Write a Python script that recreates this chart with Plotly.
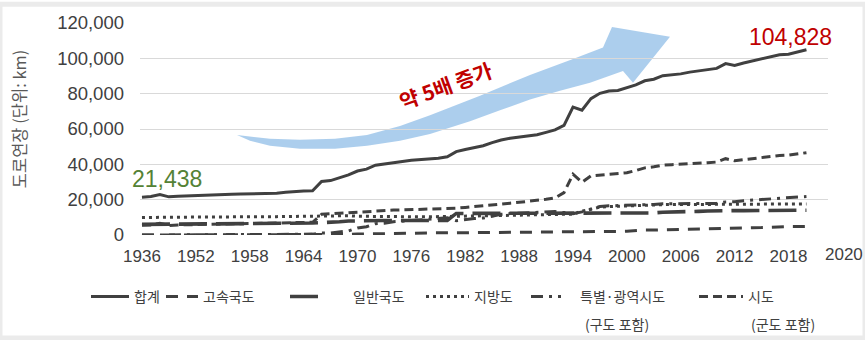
import plotly.graph_objects as go

# Road length in Korea by road class (km)
years = ["1936"] + [str(y) for y in range(1947, 2021)]

total = [21438, 21800, 22900, 21600, 22000, 22100, 22300, 22500, 22600, 22800,
         23000, 23200, 23300, 23400, 23500, 23700, 24200, 24700, 24900, 25000,
         30300, 30800, 32300, 34000, 36200, 37300, 39500, 40300, 41200, 41600,
         42300, 42700, 42900, 43500, 44300, 47200, 48400, 49500, 50500, 52300,
         53800, 54800, 55600, 56300, 56800, 58100, 59500, 62000, 72400, 70600,
         77200, 80200, 81500, 81800, 83200, 85000, 87300, 88200, 90200, 90700,
         91200, 92200, 93000, 93600, 94300, 97000, 96000, 97400, 98500, 99700,
         101000, 102000, 102300, 103500, 104828]

expressway = [0, 0, 0, 0, 0, 0, 0, 0, 0, 0,
              0, 0, 0, 0, 0, 0, 0, 0, 0, 0,
              0, 0, 90, 300, 550, 650, 650, 1000, 1000, 1140,
              1140, 1150, 1220, 1220, 1225, 1245, 1245, 1310, 1420, 1420,
              1420, 1540, 1540, 1550, 1550, 1600, 1600, 1600, 1650, 1820,
              1890, 1890, 1990, 2040, 2130, 2640, 2780, 2780, 2920, 2970,
              3100, 3370, 3450, 3780, 3860, 3910, 4040, 4110, 4140, 4190,
              4440, 4720, 4770, 4770, 4850]

national = [6000, 6100, 6200, 6200, 6200, 6200, 6200, 6300, 6300, 6300,
            6400, 6500, 6500, 6500, 6500, 6600, 6600, 6700, 6800, 6800,
            7000, 7100, 7500, 7900, 8100, 8100, 8200, 8200, 8200, 8200,
            8200, 8200, 8200, 8200, 8200, 12200, 12200, 12200, 12200, 12200,
            12200, 12200, 12200, 12200, 12200, 12300, 12300, 12300, 12400, 12400,
            12400, 12400, 12400, 12400, 12400, 12400, 12500, 12500, 12900, 12900,
            13000, 13200, 13400, 13600, 13800, 13800, 13800, 13800, 13900, 13900,
            13900, 13900, 13900, 14000, 14000]

provincial = [9900, 10000, 10100, 10000, 10100, 10100, 10200, 10200, 10200, 10300,
              10300, 10300, 10300, 10400, 10400, 10400, 10500, 10500, 10500, 10500,
              10500, 10600, 10800, 10900, 10600, 10500, 10400, 10400, 10400, 10300,
              10300, 10300, 10300, 10400, 10400, 10500, 10600, 10700, 10800, 10900,
              11000, 11000, 11100, 11100, 11100, 11200, 11300, 11400, 11800, 13500,
              14800, 15800, 16100, 16200, 16500, 16600, 16900, 17000, 17200, 17200,
              17200, 17200, 17300, 17300, 17400, 17400, 17400, 17500, 17500, 17600,
              17600, 17600, 17600, 17600, 17600]

metro = [0, 0, 0, 0, 0, 0, 0, 0, 0, 0,
         0, 0, 0, 0, 0, 0, 200, 400, 400, 500,
         1100, 1100, 1600, 2300, 4000, 4700, 6400, 6700, 7500, 7800,
         8400, 8700, 8700, 9100, 9700, 8100, 8800, 9300, 9600, 10800,
         11700, 12100, 12300, 12450, 12550, 12800, 13300, 12700, 12100, 13100,
         14600, 16100, 16500, 16600, 16900, 16900, 17100, 17300, 17700, 17800,
         17900, 17900, 18100, 18000, 17900, 18700, 18800, 19400, 19700, 20000,
         20400, 20800, 20800, 21200, 21800]

city = [5500, 5700, 6600, 5400, 5700, 5800, 5900, 6000, 6100, 6200,
        6300, 6400, 6500, 6500, 6600, 6700, 6900, 7100, 7200, 7200,
        11700, 12000, 12300, 12600, 13000, 13400, 13800, 14000, 14100, 14200,
        14300, 14400, 14500, 14600, 14800, 15200, 15600, 16000, 16500, 17000,
        17500, 18000, 18500, 19000, 19400, 20200, 21000, 24000, 34400, 29800,
        33500, 34000, 34500, 34600, 35200, 36500, 38000, 38600, 39500, 39800,
        40000, 40500, 40800, 40900, 41300, 43200, 42000, 42600, 43300, 44000,
        44600, 45000, 45200, 45900, 46600]

tick_years = ["1936", "1952", "1958", "1964", "1970", "1976", "1982",
              "1988", "1994", "2000", "2006", "2012", "2018"]
end_tick_label = "2020"

# name, values, dash pattern, width, legend label text
series = [
    ("합계", total, "solid", 3.0, "합계"),
    ("고속국도", expressway, "12px,9px", 3.0, "고속국도"),
    ("일반국도", national, "28px,9px", 3.6, "\u3000\u3000일반국도"),
    ("지방도", provincial, "3px,4px", 3.0, "지방도"),
    ("특별·광역시도", metro, "12px,6px,3px,6px", 3.0, "\u3000특별·광역시도"),
    ("시도", city, "9px,5px", 3.0, "시도"),
]

W, H = 865, 340
ML, MR, MT, MB = 140, 37, 19, 105
PW, PH = W - ML - MR, H - MT - MB


def px(x):
    return (x - ML) / PW


def py(y):
    return (H - MB - y) / PH


LINE = "#404040"
KR = "Noto Sans CJK KR"
SANS = "Liberation Sans, Arial"

fig = go.Figure()

legend_ids = ["legend", "legend2", "legend3", "legend4", "legend5", "legend6"]
for (name, vals, dash, w, label), lid in zip(series, legend_ids):
    fig.add_trace(go.Scatter(
        x=years, y=vals, mode="lines", name=label, legend=lid,
        line=dict(color=LINE, width=w, dash=dash),
        hoverinfo="skip",
    ))

# legend entries laid out in one row under the axis: (left px, symbol width)
legend_pos = [(86, 38), (161, 32), (285, 30), (421, 43), (526, 30), (694, 44)]
layout_legends = {}
for lid, (lx, iw) in zip(legend_ids, legend_pos):
    layout_legends[lid] = dict(
        x=px(lx), xanchor="left", y=py(298), yanchor="middle",
        orientation="h", bgcolor="rgba(0,0,0,0)", borderwidth=0,
        itemwidth=iw, font=dict(family=KR, size=14, color=LINE),
        itemclick=False, itemdoubleclick=False,
    )

# blue trend arrow
upper = [(237, 133), (270, 137), (300, 138), (335, 137), (367, 133), (400, 124),
         (430, 113), (480, 93), (530, 72), (575, 55), (603, 44)]
head = [(612, 23), (670, 33), (633, 80)]
lower = [(623, 68), (590, 80), (560, 88), (530, 97), (500, 108), (470, 119),
         (430, 132), (400, 139), (367, 144), (335, 147), (300, 147), (270, 144),
         (250, 139)]
pts = upper + head + lower
path = "M " + " L ".join(f"{px(a):.5f},{py(b):.5f}" for a, b in pts) + " Z"

shapes = [
    dict(type="path", path=path, xref="paper", yref="paper",
         fillcolor="rgba(157,197,234,0.85)", line=dict(width=0), layer="between"),
    dict(type="rect", xref="paper", yref="paper", x0=px(0), x1=px(W), y0=py(0), y1=py(H),
         line=dict(color="#ebebeb", width=5), fillcolor="rgba(0,0,0,0)"),
]


def note(text, x, y, size, color, family=KR, angle=0, xanchor="center"):
    return dict(text=text, x=px(x), y=py(y), xref="paper", yref="paper",
                xanchor=xanchor, yanchor="middle", showarrow=False,
                textangle=angle, font=dict(family=family, size=size, color=color))


annotations = [
    note(f"{total[0]:,}", 167, 178, 23, "#548235", family=SANS),
    note(f"{total[-1]:,}", 790, 33, 23, "#C00000", family=SANS),
    note("<b>약 5배 증가</b>", 445, 82, 20.5, "#C00000", angle=-20),
    note("도로연장 (단위: km)", 19, 117, 16.5, "#595959", angle=-90),
    note(end_tick_label, 844, 255, 17, LINE, family=SANS),
    note("(구도 포함)", 583, 326, 14, LINE, xanchor="left"),
    note("(군도 포함)", 749, 326, 14, LINE, xanchor="left"),
]

fig.update_layout(
    width=W, height=H,
    margin=dict(l=ML, r=MR, t=MT, b=MB, pad=0),
    paper_bgcolor="white", plot_bgcolor="white",
    showlegend=True,
    shapes=shapes, annotations=annotations,
    **layout_legends,
)

fig.update_xaxes(
    type="category", range=[-0.22, 76.4],
    tickmode="array", tickvals=tick_years, ticktext=tick_years,
    showgrid=False, zeroline=False, showline=False, ticks="",
    ticklabelstandoff=9,
    tickfont=dict(family=SANS, size=17, color=LINE),
)
fig.update_yaxes(
    range=[0, 120000], tickvals=[0, 20000, 40000, 60000, 80000, 100000, 120000],
    tickformat=",d", showgrid=True, gridcolor="#d9d9d9", gridwidth=1,
    zeroline=False, showline=False, ticks="",
    ticklabelstandoff=15,
    tickfont=dict(family=SANS, size=18.5, color=LINE),
)

fig.write_html("out.html")
